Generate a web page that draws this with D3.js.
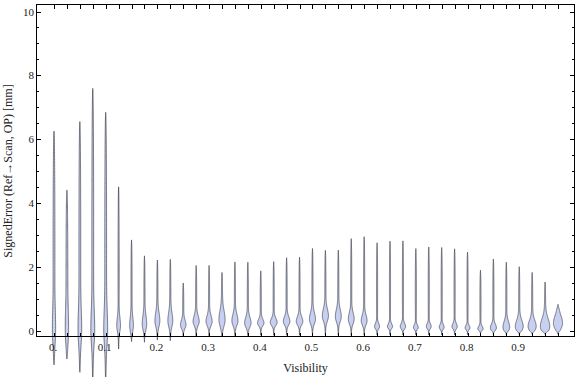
<!DOCTYPE html>
<html>
<head>
<script src="https://cdnjs.cloudflare.com/ajax/libs/d3/7.8.5/d3.min.js"></script>
<style type='text/css'>
  body { margin: 0; background: #fff; }
  svg text { font-family: "Liberation Serif", "DejaVu Serif", serif; fill: #222; }
  .frame { fill: none; stroke: #000; stroke-width: 1; shape-rendering: crispEdges; }
  .tick { stroke: #000; stroke-width: 1; shape-rendering: crispEdges; }
  .violin { fill: #c8d0f2; stroke: rgba(45,45,55,0.8); stroke-width: 0.75; }
</style>
</head>
<body>
<div id='chart'></div>
<script type='text/javascript'>
// visibility bins (categories)
var vis = [0, 0.025, 0.05, 0.075, 0.1, 0.125, 0.15, 0.175, 0.2, 0.225,
           0.25, 0.275, 0.3, 0.325, 0.35, 0.375, 0.4, 0.425, 0.45, 0.475,
           0.5, 0.525, 0.55, 0.575, 0.6, 0.625, 0.65, 0.675, 0.7, 0.725,
           0.75, 0.775, 0.8, 0.825, 0.85, 0.875, 0.9, 0.925, 0.95, 0.975];
// max / min signed error per bin [mm]
var errMax = [6.25, 4.40, 6.55, 7.59, 6.84, 4.50, 2.84, 2.34, 2.21, 2.23,
              1.49, 2.04, 2.04, 1.82, 2.15, 2.14, 1.87, 2.16, 2.28, 2.30,
              2.57, 2.51, 2.52, 2.88, 2.94, 2.75, 2.80, 2.81, 2.57, 2.62,
              2.60, 2.56, 2.46, 1.89, 2.24, 2.14, 2.00, 1.82, 1.52, 0.82];
var errMin = [-1.08, -0.89, -1.31, -1.60, -1.60, -0.58, -0.35, -0.37, -0.30, -0.32,
              -0.18, -0.18, -0.18, -0.18, -0.16, -0.16, -0.15, -0.15, -0.15, -0.15,
              -0.15, -0.15, -0.15, -0.15, -0.15, -0.14, -0.14, -0.14, -0.14, -0.14,
              -0.14, -0.14, -0.13, -0.12, -0.13, -0.13, -0.13, -0.12, -0.12, -0.12];
// value at which the density peaks
var errMode = [0.0, 0.0, 0.0, 0.0, 0.0, 0.15, 0.15, 0.2, 0.3, 0.3,
               0.17, 0.28, 0.28, 0.33, 0.3, 0.23, 0.23, 0.25, 0.28, 0.28,
               0.35, 0.45, 0.43, 0.35, 0.3, 0.12, 0.12, 0.12, 0.09, 0.12,
               0.10, 0.12, 0.08, 0.05, 0.08, 0.10, 0.12, 0.12, 0.12, 0.22];
// relative peak density
var peak = [0.22, 0.22, 0.26, 0.28, 0.28, 0.33, 0.33, 0.40, 0.44, 0.44,
            0.51, 0.58, 0.58, 0.58, 0.58, 0.62, 0.62, 0.67, 0.64, 0.64,
            0.58, 0.58, 0.56, 0.56, 0.56, 0.49, 0.49, 0.53, 0.47, 0.47,
            0.47, 0.51, 0.47, 0.53, 0.60, 0.67, 0.80, 0.82, 0.96, 0.90];
// spread of the main bulge [mm]
var spread = [0.6, 0.6, 0.6, 0.6, 0.6, 0.25, 0.25, 0.25, 0.25, 0.25,
              0.15, 0.18, 0.18, 0.28, 0.20, 0.18, 0.12, 0.13, 0.15, 0.15,
              0.20, 0.22, 0.22, 0.20, 0.18, 0.10, 0.09, 0.10, 0.08, 0.09,
              0.09, 0.10, 0.08, 0.08, 0.12, 0.18, 0.20, 0.20, 0.25, 0.25];

var xTickLabels = ["0.", "0.1", "0.2", "0.3", "0.4", "0.5", "0.6", "0.7", "0.8", "0.9"];
var xTickValues = [0, 0.1, 0.2, 0.3, 0.4, 0.5, 0.6, 0.7, 0.8, 0.9];
var yTicks = [0, 2, 4, 6, 8, 10];

var W = 576, H = 377;
var frame = {left: 36.5, right: 574.5, top: 4.5, bottom: 336.5};

var x = d3.scaleLinear().domain([0, 0.975]).range([54, 558]);
var y = d3.scaleLinear().domain([0, 10]).range([330.5, 11.5]);
var w = d3.scaleLinear().domain([0, 1]).range([0, 4.5]);

var svg = d3.select('#chart').append('svg')
  .attr('width', W).attr('height', H);

// violins
function profile(i) {
  var lo = errMin[i], hi = errMax[i], m = errMode[i], s = spread[i];
  var tailW = i < 5 ? 0.9 : 0.55;
  var n = 160, pts = [];
  for (var k = 0; k <= n; k++) {
    var v = lo + (hi - lo) * k / n;
    var sd = v > m ? s : s * 0.7;
    var bulge = w(peak[i]) * Math.exp(-0.5 * Math.pow((v - m) / sd, 2));
    var t = (v - lo) * (hi - v) / Math.pow((hi - lo) / 2, 2);
    var tail = tailW * Math.sqrt(Math.max(0, t));
    var edge = Math.min(1, Math.min(v - lo, hi - v) / 0.12);
    pts.push({v: v, hw: (bulge + tail) * edge});
  }
  return pts;
}

var area = d3.area()
  .curve(d3.curveBasis)
  .y(function(d) { return y(d.v); })
  .x0(function(d) { return -d.hw; })
  .x1(function(d) { return d.hw; });

svg.append('g').selectAll('path')
  .data(vis)
  .enter().append('path')
  .attr('class', 'violin')
  .attr('transform', function(d) { return 'translate(' + x(d) + ',0)'; })
  .attr('d', function(d, i) { return area(profile(i)); });

// frame
svg.append('rect').attr('class', 'frame')
  .attr('x', frame.left).attr('y', frame.top)
  .attr('width', frame.right - frame.left)
  .attr('height', frame.bottom - frame.top);

var ticks = svg.append('g');
// category ticks bottom + top
vis.forEach(function(d) {
  var px = Math.round(x(d)) + 0.5;
  ticks.append('line').attr('class', 'tick')
    .attr('x1', px).attr('x2', px).attr('y1', frame.bottom).attr('y2', frame.bottom - 4);
  ticks.append('line').attr('class', 'tick')
    .attr('x1', px).attr('x2', px).attr('y1', frame.top).attr('y2', frame.top + 4);
});
// y ticks every 0.5, longer at labelled values
d3.range(0, 10.01, 0.5).forEach(function(v) {
  var py = Math.round(y(v)) + 0.5;
  var len = (v % 2 === 0) ? 4.5 : 2.5;
  ticks.append('line').attr('class', 'tick')
    .attr('x1', frame.left).attr('x2', frame.left + len).attr('y1', py).attr('y2', py);
  ticks.append('line').attr('class', 'tick')
    .attr('x1', frame.right).attr('x2', frame.right - len).attr('y1', py).attr('y2', py);
});

// tick labels
svg.append('g').selectAll('text')
  .data(yTicks)
  .enter().append('text')
  .attr('x', 34).attr('y', function(d) { return y(d) + 4; })
  .attr('text-anchor', 'end')
  .style('font-size', '11px')
  .text(function(d) { return d; });

svg.append('g').selectAll('text')
  .data(xTickValues)
  .enter().append('text')
  .attr('x', function(d) { return x(d) - 1; })
  .attr('y', 351)
  .attr('text-anchor', 'middle')
  .style('font-size', '11px')
  .text(function(d, i) { return xTickLabels[i]; });

// axis titles
svg.append('text')
  .attr('x', (frame.left + frame.right) / 2).attr('y', 372)
  .attr('text-anchor', 'middle')
  .style('font-size', '12px')
  .text('Visibility');

svg.append('text')
  .attr('transform', 'translate(12,171) rotate(-90)')
  .attr('text-anchor', 'middle')
  .style('font-size', '12px')
  .text('SignedError (Ref\u2192Scan, OP) [mm]');
</script>
</body>
</html>
